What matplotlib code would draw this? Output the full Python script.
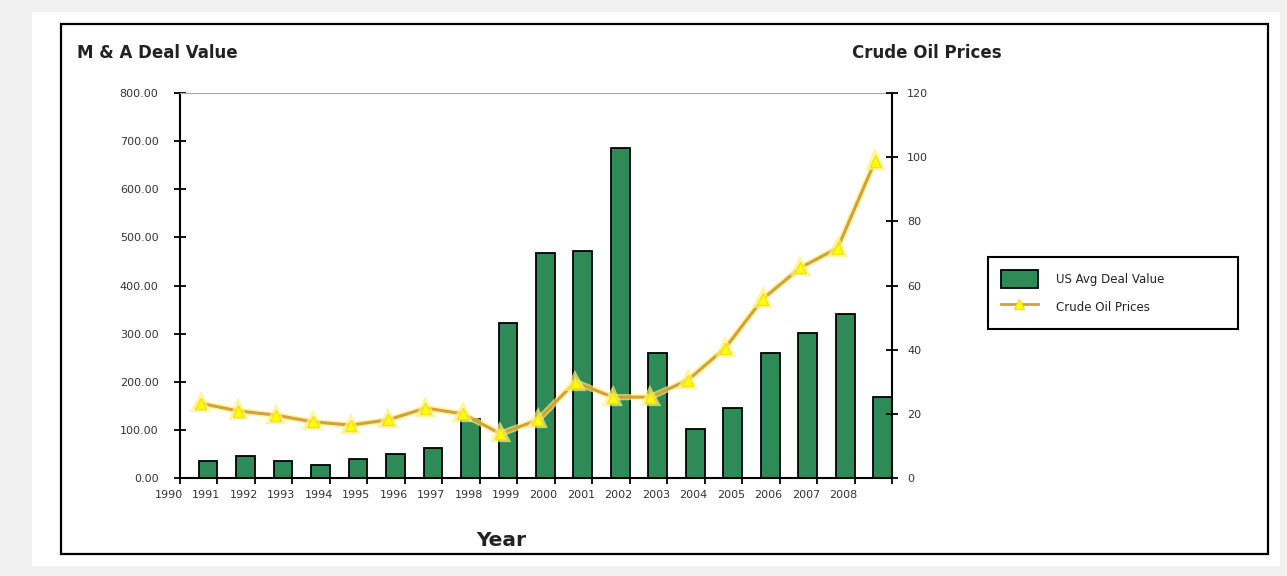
import matplotlib
matplotlib.use("Agg")
import matplotlib.pyplot as plt
import matplotlib.patheffects as pe
from matplotlib.patches import Rectangle, Patch
from matplotlib.lines import Line2D
from matplotlib.transforms import ScaledTranslation
import numpy as np

# M&A average deal value per year (left axis)
deal_years = list(range(1991, 2010))
deal_values = [35, 46, 35, 27, 40, 50, 62, 123, 322, 467, 471, 686,
               260, 102, 146, 260, 301, 341, 168]

# Crude oil price per year (right axis), plotted at mid-year
oil_years = list(range(1990, 2009))
oil_prices = [23.3, 20.9, 19.6, 17.5, 16.5, 18.1, 21.8, 20.0, 13.8, 18.1,
              29.9, 25.2, 25.2, 30.5, 40.5, 55.8, 65.5, 71.7, 98.8]

tick_years = list(range(1990, 2010))
year_labels = [str(y) for y in range(1990, 2009)] + [""]
left_ticks = [0, 100, 200, 300, 400, 500, 600, 700, 800]
right_ticks = [0, 20, 40, 60, 80, 100, 120]

W, H = 1287, 576
BAR_GREEN = "#2e8b57"
OIL_LINE = "#d4a03c"
OIL_MARK = "#ffff00"
TXT = "#222222"

plt.rcParams["font.family"] = ["DejaVu Sans"]

fig = plt.figure(figsize=(W / 100, H / 100), dpi=100, facecolor="#f0f0f0")

# white sheet and framed chart area
fig.patches.append(Rectangle((32 / W, 1 - 566 / H), (1280 - 32) / W, (566 - 12) / H,
                             transform=fig.transFigure, facecolor="white",
                             edgecolor="none", zorder=-5))
fig.patches.append(Rectangle((61 / W, 1 - 554 / H), (1268 - 61) / W, (554 - 24) / H,
                             transform=fig.transFigure, facecolor="none",
                             edgecolor="black", lw=1.6, zorder=-4))

ax = fig.add_axes([180 / W, 1 - 478 / H, (892 - 180) / W, (478 - 93) / H])
ax.bar(deal_years, deal_values, width=-0.5, align="edge", color=BAR_GREEN,
       edgecolor="black", lw=1.3, zorder=2)
ax.set_xlim(1990, 2009)
ax.set_ylim(0, 800)

ax.set_yticks(left_ticks, labels=[f"{v:.2f}" for v in left_ticks])
ax.tick_params(axis="y", direction="inout", length=9, width=1.3, pad=11,
               labelsize=8, labelcolor="#333333")
ax.set_xticks(tick_years, labels=year_labels)
ax.tick_params(axis="x", direction="out", length=4.5, width=1.3, pad=4,
               labelsize=8, labelcolor="#333333")
shift = ScaledTranslation(3 / 100, 0, fig.dpi_scale_trans)
for lbl in ax.get_xticklabels():
    lbl.set_horizontalalignment("right")
    lbl.set_transform(lbl.get_transform() + shift)

ax.spines["top"].set_color("#a8a8a8")
ax.spines["top"].set_linewidth(0.8)
ax.spines["right"].set_visible(False)
for s in ("left", "bottom"):
    ax.spines[s].set_linewidth(1.5)
    ax.spines[s].set_color("black")

ax2 = ax.twinx()
ax2.plot(np.array(oil_years) + 0.55, oil_prices, color=OIL_LINE, lw=2.2,
         marker="^", ms=8, mfc=OIL_MARK, mec="#f2e21a", zorder=3,
         path_effects=[pe.Stroke(linewidth=4.5, foreground="#fff27a", alpha=0.7),
                       pe.Normal()])
ax2.set_ylim(0, 120)
ax2.set_yticks(right_ticks)
ax2.tick_params(axis="y", direction="inout", length=9, width=1.3, pad=6.5,
                labelsize=8, labelcolor="#333333")
for s in ("top", "left", "bottom"):
    ax2.spines[s].set_visible(False)
ax2.spines["right"].set_linewidth(1.5)
ax2.spines["right"].set_color("black")

fig.text(77 / W, 1 - 58 / H, "M & A Deal Value", fontsize=12, fontweight="bold",
         color=TXT, va="baseline")
fig.text(852 / W, 1 - 58 / H, "Crude Oil Prices", fontsize=12, fontweight="bold",
         color=TXT, va="baseline")
fig.text(501 / W, 1 - 546 / H, "Year", fontsize=14.5, fontweight="bold",
         color=TXT, ha="center", va="baseline")

handles = [Patch(facecolor=BAR_GREEN, edgecolor="black", lw=1.3),
           Line2D([], [], color=OIL_LINE, lw=2, marker="^", ms=7,
                  mfc=OIL_MARK, mec="#f2e21a")]
leg = fig.legend(handles, ["US Avg Deal Value", "Crude Oil Prices"],
                 loc="upper left",
                 bbox_to_anchor=(988 / W, 1 - 329 / H, 250 / W, 72 / H),
                 mode="expand", fontsize=8.5, frameon=True, fancybox=False,
                 edgecolor="black", framealpha=1, borderpad=1.1,
                 handlelength=3.1, handleheight=2.0, labelspacing=0.8,
                 handletextpad=1.6, borderaxespad=0)
leg.get_frame().set_linewidth(1.5)
for t in leg.get_texts():
    t.set_color(TXT)

fig.savefig("out.png", dpi=100, facecolor=fig.get_facecolor())
